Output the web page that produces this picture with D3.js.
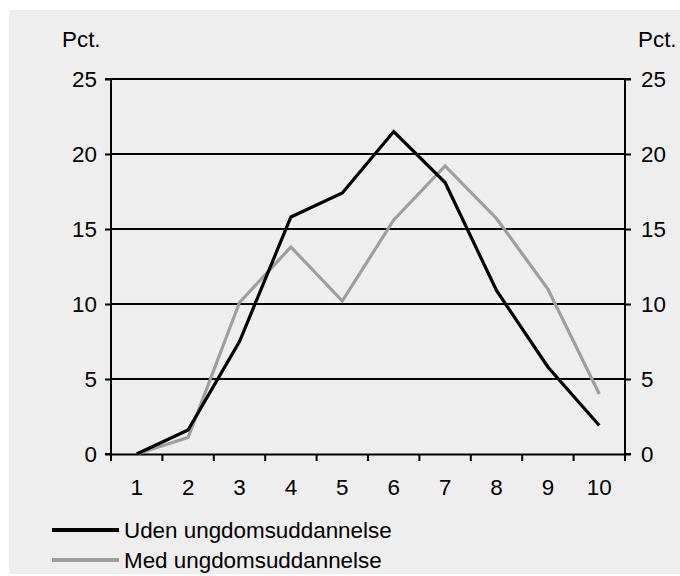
<!DOCTYPE html>
<html>
<head>
<meta charset="utf-8">
<script src="https://cdn.jsdelivr.net/npm/d3@7"></script>
<style>
  body { margin: 0; background: #fff; }
  text { font-family: "Liberation Sans", Arial, sans-serif; fill: #000; }
</style>
</head>
<body>
<div class="chart-holder"></div>
<script>
let categories = [1, 2, 3, 4, 5, 6, 7, 8, 9, 10]
let udenValues = [0, 1.6, 7.5, 15.8, 17.4, 21.5, 18.1, 10.9, 5.8, 1.9]
let medValues = [0, 1.1, 10.1, 13.8, 10.2, 15.6, 19.2, 15.7, 11.0, 4.0]
let yTicks = [0, 5, 10, 15, 20, 25]
let seriesNames = ['Uden ungdomsuddannelse', 'Med ungdomsuddannelse']
let seriesColors = ['#000000', '#9e9e9e']

let width = 680
let height = 576
let margin = { top: 79, bottom: 122, left: 111, right: 55 }
let fontSize = '22.4px'

let svg = d3.select('.chart-holder')
    .append('svg')
        .attr('width', width)
        .attr('height', height)

// grey panel behind everything
svg.append('rect')
    .attr('x', 9).attr('y', 10)
    .attr('width', width - 9).attr('height', 564)
    .attr('fill', '#eeeeee')

let x = d3.scaleBand()
    .domain(categories)
    .range([margin.left, width - margin.right])

let y = d3.scaleLinear()
    .domain([0, 25])
    .range([height - margin.bottom, margin.top])

// horizontal grid lines
svg.append('g').attr('class', 'grid')
    .selectAll('line')
    .data(yTicks.filter(d => d > 0))
    .enter()
    .append('line')
        .attr('x1', margin.left).attr('x2', width - margin.right)
        .attr('y1', d => y(d)).attr('y2', d => y(d))
        .attr('stroke', '#000').attr('stroke-width', 2)

let leftAxis = svg.append('g')
    .attr('transform', 'translate(' + margin.left + ',0)')
    .call(d3.axisLeft(y).tickValues(yTicks).tickSize(6).tickPadding(8))

let rightAxis = svg.append('g')
    .attr('transform', 'translate(' + (width - margin.right) + ',0)')
    .call(d3.axisRight(y).tickValues(yTicks).tickSize(6).tickPadding(10))

let bottomAxis = svg.append('g')
    .attr('transform', 'translate(0,' + y(0) + ')')
    .call(d3.axisBottom(x).tickSize(0).tickPadding(25))

// category boundary ticks, between the bands
bottomAxis.append('g')
    .selectAll('line')
    .data(d3.range(categories.length + 1))
    .enter()
    .append('line')
        .attr('x1', i => margin.left + i * x.step())
        .attr('x2', i => margin.left + i * x.step())
        .attr('y1', 0).attr('y2', 7)
        .attr('stroke', '#000').attr('stroke-width', 2)

;[leftAxis, rightAxis, bottomAxis].forEach(ax => {
    ax.select('.domain').attr('stroke', '#000').attr('stroke-width', 2)
    ax.selectAll('.tick line').attr('stroke', '#000').attr('stroke-width', 2)
    ax.selectAll('.tick text')
        .style('font-size', fontSize)
        .attr('fill', '#000')
})
leftAxis.select('.domain').attr('d', 'M-6,' + y(25) + 'H0V' + y(0) + 'H-6')
rightAxis.select('.domain').attr('d', 'M6,' + y(25) + 'H0V' + y(0) + 'H6')

// unit labels
svg.append('text')
    .attr('x', 62).attr('y', 47)
    .style('font-size', fontSize)
    .text('Pct.')
svg.append('text')
    .attr('x', 638).attr('y', 47)
    .style('font-size', fontSize)
    .text('Pct.')

let line = d3.line()
    .x((d, i) => x(categories[i]) + x.bandwidth() / 2)
    .y(d => y(d))

;[medValues, udenValues].forEach((vals, k) => {
    let idx = k === 0 ? 1 : 0
    svg.append('path')
        .datum(vals)
        .attr('d', line)
        .attr('fill', 'none')
        .attr('stroke', seriesColors[idx])
        .attr('stroke-width', 3.2)
        .attr('stroke-linejoin', 'miter')
})

// legend
let legend = svg.append('g').attr('class', 'legend')
    .selectAll('g')
    .data(seriesNames)
    .enter()
    .append('g')
        .attr('transform', (d, i) => 'translate(52,' + (530 + i * 30) + ')')

legend.append('line')
    .attr('x1', 0).attr('x2', 67)
    .attr('y1', 0).attr('y2', 0)
    .attr('stroke', (d, i) => seriesColors[i])
    .attr('stroke-width', 4)

legend.append('text')
    .attr('x', 72).attr('y', 0)
    .attr('dy', '0.35em')
    .style('font-size', fontSize)
    .text(d => d)
</script>
</body>
</html>
